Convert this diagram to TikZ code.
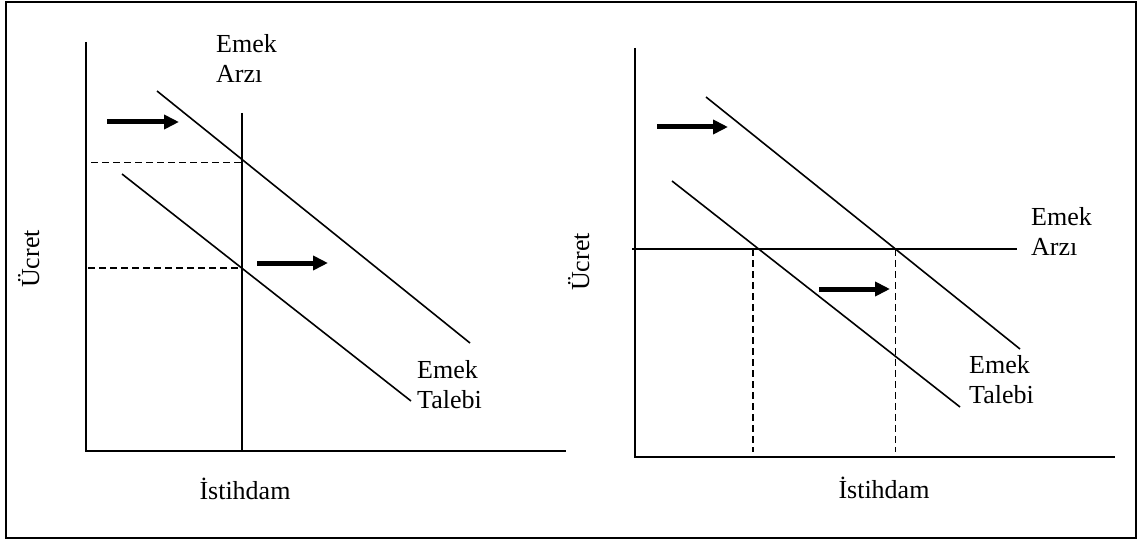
\documentclass[tikz,border=0pt]{standalone}
\usepackage{fontspec}
\setmainfont{Liberation Serif}
\usepackage{tikz}
\usetikzlibrary{arrows.meta,positioning,calc}
\newcommand{\lblfont}{\fontsize{26}{30}\selectfont}

\begin{document}
\begin{tikzpicture}[
  x=1pt, y=-1pt,
  every node/.style={font=\lblfont, inner sep=0pt},
  axis/.style={line width=2pt},
  demand/.style={line width=1.6pt},
  guide/.style={line width=1.6pt, dash pattern=on 7pt off 4pt},
  shiftarrow/.style={line width=5pt, -{Triangle[length=15pt, width=14pt]}},
  curvelbl/.style={align=left, anchor=north west}
]
  \useasboundingbox (0,0) rectangle (1140,540);
  \draw[line width=2.2pt] (6,2) rectangle (1136,538);

  % ---------- left panel: vertical supply ----------
  \coordinate (LO) at (86,451);
  \coordinate (LYtop) at (86,42);
  \coordinate (LXend) at (566,451);
  \draw[axis] (LYtop) -- (LO) -- (LXend);

  \coordinate (LStop) at (242,113);
  \coordinate (LSbot) at (242,451);
  \draw[demand] (LStop) -- (LSbot);

  % demand curves (old, new)
  \coordinate (LD1a) at (122,174);
  \coordinate (LD1b) at (411,401);
  \coordinate (LD2a) at (157,91);
  \coordinate (LD2b) at (470,343);
  \draw[demand] (LD1a) -- (LD1b);
  \draw[demand] (LD2a) -- (LD2b);

  % equilibria and wage levels
  \coordinate (LE1) at (intersection of LStop--LSbot and LD1a--LD1b);
  \coordinate (LE2) at (intersection of LStop--LSbot and LD2a--LD2b);
  \coordinate (LW1) at ($(LE1 -| LO)+(2,0)$);
  \coordinate (LW2) at ($(LE2 -| LO)+(5,3)$);
  \draw[guide] (LW1) -- (LE1);
  \draw[guide] (LW2) -- (LE2 |- LW2);

  % shift arrows
  \coordinate (LA1s) at (107,122);
  \coordinate (LA1e) at (179,122);
  \coordinate (LA2s) at (257,263);
  \coordinate (LA2e) at (328,263);
  \draw[shiftarrow] (LA1s) -- (LA1e);
  \draw[shiftarrow] (LA2s) -- (LA2e);

  \node[curvelbl] (LSlbl) at (216,34) {Emek\\Arzı};
  \node[curvelbl] (LDlbl) at (417,360) {Emek\\Talebi};
  \node[anchor=base] (LXlbl) at (245,499) {İstihdam};
  \node[anchor=base, rotate=90] (LYlbl) at (39,259) {Ücret};

  % ---------- right panel: horizontal supply ----------
  \coordinate (RO) at (635,457);
  \coordinate (RYtop) at (635,48);
  \coordinate (RXend) at (1115,457);
  \draw[axis] (RYtop) -- (RO) -- (RXend);

  \coordinate (RSa) at (632,249);
  \coordinate (RSb) at (1017,249);
  \draw[axis] (RSa) -- (RSb);

  \coordinate (RD1a) at (672,181);
  \coordinate (RD1b) at (960,407);
  \coordinate (RD2a) at (706,97);
  \coordinate (RD2b) at (1020,349);
  \draw[demand] (RD1a) -- (RD1b);
  \draw[demand] (RD2a) -- (RD2b);

  % employment levels
  \coordinate (RE1) at (753,249);
  \coordinate (RE2) at (intersection of RSa--RSb and RD2a--RD2b);
  \coordinate (RQ1) at ($(RE1 |- RO)+(0,-5)$);
  \coordinate (RQ2) at ($(RE2 |- RO)+(0,-5)$);
  \draw[guide] (RE1) -- (RQ1);
  \draw[guide] (RE2) -- (RQ2);

  \coordinate (RA1s) at (657,127);
  \coordinate (RA1e) at (728,127);
  \coordinate (RA2s) at (819,289);
  \coordinate (RA2e) at (890,289);
  \draw[shiftarrow] (RA1s) -- (RA1e);
  \draw[shiftarrow] (RA2s) -- (RA2e);

  \node[curvelbl] (RSlbl) at (1031,207) {Emek\\Arzı};
  \node[curvelbl] (RDlbl) at (969,355) {Emek\\Talebi};
  \node[anchor=base] (RXlbl) at (884,498) {İstihdam};
  \node[anchor=base, rotate=90] (RYlbl) at (589,262) {Ücret};
\end{tikzpicture}
\end{document}
